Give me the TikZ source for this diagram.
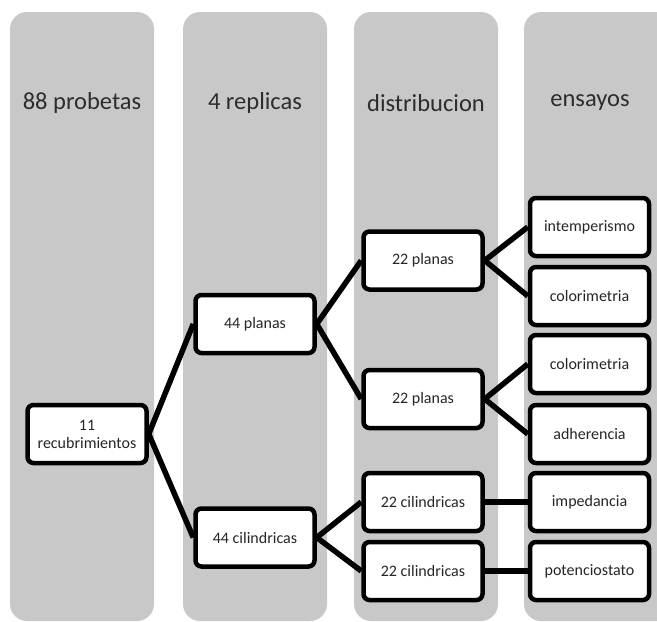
\documentclass[tikz,border=0pt]{standalone}
\usepackage{fontspec}
\setmainfont{Carlito}
\definecolor{colgray}{RGB}{200,200,200}
\definecolor{txt}{RGB}{38,38,38}
\definecolor{hdr}{RGB}{45,45,45}
\begin{document}
\begin{tikzpicture}[x=1pt,y=-1pt,
  column/.style={fill=colgray,draw=none,rounded corners=17pt},
  hdrtext/.style={text=hdr,font=\fontsize{24.5}{28}\selectfont,inner sep=0pt},
  box/.style={draw=black,fill=white,line width=4.5pt,rounded corners=6pt,
    minimum width=119pt,minimum height=58pt,text=txt,align=center,
    font=\fontsize{16}{18}\selectfont,inner sep=1pt},
  conn/.style={draw=black,line width=5.5pt}]
\useasboundingbox (0,0) rectangle (657,622);
\begin{scope}
\clip (0,0) rectangle (657,622);
\fill[column] (10,12) rectangle (154,621);
\fill[column] (183,12) rectangle (327,621);
\fill[column] (354,12) rectangle (498,621);
\fill[column] (524,12) rectangle (690,621);
\end{scope}
\node[hdrtext] (h1) at (82,103) {88 probetas};
\node[hdrtext] (h2) at (255,103) {4 replicas};
\node[hdrtext] (h3) at (426,103) {distribucion};
\node[hdrtext] (h4) at (590,103) {ensayos};

\node[box] (rec) at (87,434) {11\\recubrimientos};
\node[box] (p44) at (255,324) {44 planas};
\node[box] (c44) at (255,537.5) {44 cilindricas};
\node[box] (p22a) at (423,260.5) {22 planas};
\node[box] (p22b) at (423,399) {22 planas};
\node[box] (c22a) at (423,502) {22 cilindricas};
\node[box] (c22b) at (423,571) {22 cilindricas};
\node[box] (e1) at (589.5,227) {intemperismo};
\node[box] (e2) at (589.5,296) {colorimetria};
\node[box] (e3) at (589.5,364) {colorimetria};
\node[box] (e4) at (589.5,434) {adherencia};
\node[box] (e5) at (589.5,502) {impedancia};
\node[box] (e6) at (589.5,571) {potenciostato};

\draw[conn] (rec.east) -- (p44.west);
\draw[conn] (rec.east) -- (c44.west);
\draw[conn] (p44.east) -- (p22a.west);
\draw[conn] (p44.east) -- (p22b.west);
\draw[conn] (c44.east) -- (c22a.west);
\draw[conn] (c44.east) -- (c22b.west);
\draw[conn] (p22a.east) -- (e1.west);
\draw[conn] (p22a.east) -- (e2.west);
\draw[conn] (p22b.east) -- (e3.west);
\draw[conn] (p22b.east) -- (e4.west);
\draw[conn] (c22a.east) -- (e5.west);
\draw[conn] (c22b.east) -- (e6.west);
\end{tikzpicture}
\end{document}
